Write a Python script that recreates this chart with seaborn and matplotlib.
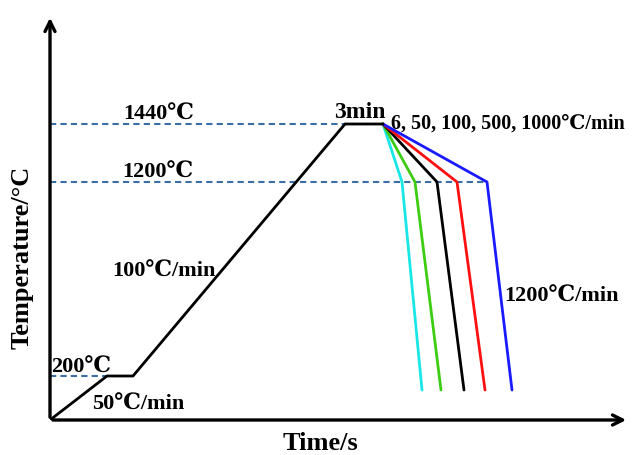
import matplotlib
matplotlib.use('Agg')
import matplotlib.pyplot as plt
import seaborn as sns
import pandas as pd

# schematic heat-treatment profile (arbitrary time units, schematic temperature height)
heat_time = [0, 57, 83, 295, 333]
heat_temp = [0, 44, 44, 296, 296]

rates = ['6', '50', '100', '500', '1000']
cool_colors = ['#19e6e6', '#3ccc14', '#000000', '#ff1010', '#1a1aff']
cool_start = (333, 296)
t_at_1200 = [352, 365, 387, 407, 437]
t_end = [372, 391, 414, 435, 462]
level_1200 = 238
level_end = 30

levels = {'1440℃': (296, 333), '1200℃': (238, 437), '200℃': (44, 57)}

sns.set_style('white')
plt.rcParams['font.family'] = ['Liberation Serif', 'DejaVu Serif']
plt.rcParams['font.weight'] = 'bold'
plt.rcParams['text.color'] = 'black'

fig = plt.figure(figsize=(6.36, 4.55), dpi=100)
ax = fig.add_axes([50 / 636, 35 / 455, 579 / 636, 405 / 455])
ax.set_xlim(0, 579)
ax.set_ylim(0, 405)
for s in ax.spines.values():
    s.set_visible(False)
ax.set_xticks([])
ax.set_yticks([])

# axes with arrows
ax.annotate('', xy=(1, 0), xytext=(0, 0), xycoords='axes fraction',
            arrowprops=dict(arrowstyle='->', lw=2.4, color='black', mutation_scale=18))
ax.annotate('', xy=(0, 1), xytext=(0, 0), xycoords='axes fraction',
            arrowprops=dict(arrowstyle='->', lw=2.4, color='black', mutation_scale=18))

# dashed reference levels
for lab, (y, xend) in levels.items():
    ax.hlines(y, 0, xend, colors='#3a6ea5', linestyles=(0, (3, 2)), lw=1.5, zorder=1)

heat = pd.DataFrame({'time': heat_time, 'temp': heat_temp})
sns.lineplot(data=heat, x='time', y='temp', color='black', lw=2.0, sort=False,
             estimator=None, ax=ax, zorder=3)

rows = []
for r, t1, t2 in zip(rates, t_at_1200, t_end):
    rows += [(r, cool_start[0], cool_start[1]), (r, t1, level_1200), (r, t2, level_end)]
cool = pd.DataFrame(rows, columns=['rate', 'time', 'temp'])
sns.lineplot(data=cool, x='time', y='temp', hue='rate', palette=cool_colors,
             sort=False, estimator=None, lw=2.0, legend=False, ax=ax, zorder=2)
ax.set_xlabel('')
ax.set_ylabel('')

def label(x, y, s, size=16, **kw):
    fig.text(x / 636, 1 - y / 455, s, ha='center', va='baseline', fontsize=size,
             fontweight='bold', color='black', **kw)

label(159, 120, '1440℃')
label(158, 178, '1200℃')
label(81, 373, '200℃')
label(138, 410, '50℃/min')
label(164, 277, '100℃/min')
label(360, 118, '3min', size=17)
label(508, 129, ', '.join(rates) + '℃/min', size=14.5)
label(561, 302, '1200℃/min')
label(320, 450, 'Time/s', size=19)
fig.text(22 / 636, 1 - 257 / 455, 'Temperature/°C', ha='center', va='center', rotation=90,
         fontsize=19, fontweight='bold', color='black')

fig.savefig('out.png', dpi=100, facecolor='white')
